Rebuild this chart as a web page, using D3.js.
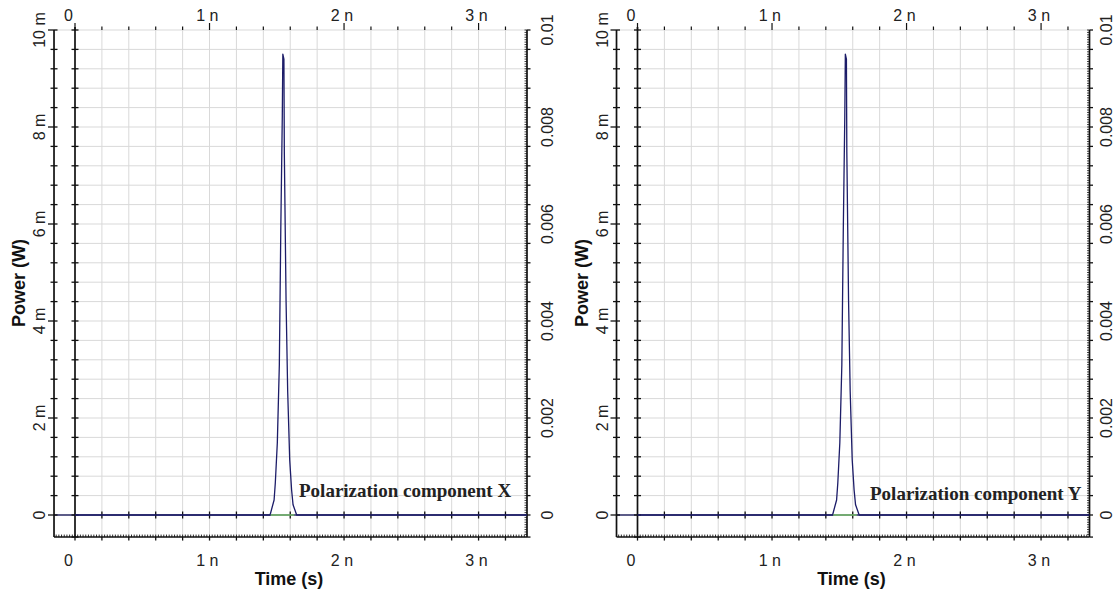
<!DOCTYPE html>
<html>
<head>
<meta charset="utf-8">
<script src="https://cdn.jsdelivr.net/npm/d3@7"></script>
<style>
  html, body { margin: 0; padding: 0; background: #fff; }
  svg { display: block; }
</style>
</head>
<body>
<svg id="chart" width="1115" height="592"></svg>
<script>
// Optical pulse, polarization X (time in ns, power in mW)
const pulseXTime  = [0, 1.450, 1.480, 1.489, 1.504, 1.519, 1.530, 1.541, 1.545, 1.553, 1.556, 1.569, 1.581, 1.596, 1.610, 1.621, 1.648, 3.36];
const pulseXPower = [0, 0, 0.31, 0.66, 1.49, 3.10, 5.93, 8.23, 9.50, 9.40, 7.49, 4.41, 2.55, 1.14, 0.52, 0.21, 0, 0];

// Optical pulse, polarization Y (time in ns, power in mW)
const pulseYTime  = [0, 1.450, 1.480, 1.489, 1.504, 1.519, 1.530, 1.541, 1.545, 1.553, 1.556, 1.569, 1.581, 1.596, 1.610, 1.621, 1.648, 3.36];
const pulseYPower = [0, 0, 0.31, 0.66, 1.49, 3.10, 5.93, 8.23, 9.50, 9.40, 7.49, 4.41, 2.55, 1.14, 0.52, 0.21, 0, 0];

// Weak companion trace under the pulse (time in ns, power in mW)
const companionTime  = [1.455, 1.630];
const companionPower = [0, 0];

// Axis ticks and labels
const timeTickValues   = [0, 1, 2, 3];
const timeTickLabels   = ["0", "1 n", "2 n", "3 n"];
const powerTickValues  = [0, 2, 4, 6, 8, 10];
const powerTickLabels  = ["0", "2 m", "4 m", "6 m", "8 m", "10 m"];
const wattTickValues   = [0, 0.002, 0.004, 0.006, 0.008, 0.01];
const wattTickLabels   = ["0", "0.002", "0.004", "0.006", "0.008", "0.01"];

const panels = [
  { dx: 0,     time: pulseXTime, power: pulseXPower, title: "Polarization component X", tx: 299, ty: 497, wattGap: 26 },
  { dx: 562.5, time: pulseYTime, power: pulseYPower, title: "Polarization component Y", tx: 870, ty: 500, wattGap: 22 }
];

const svg = d3.select("#chart");
const SANS = "'Liberation Sans', Arial, sans-serif";
const SERIF = "'Liberation Serif', 'Times New Roman', serif";
const GRID = "#d9d9d9";
const INK = "#111";

function drawPanel(p) {
  const g = svg.append("g");
  const x = d3.scaleLinear().domain([0, 3.36]).range([p.dx + 75, p.dx + 527]);
  const y = d3.scaleLinear().domain([0, 10]).range([515, 30]);
  const yW = d3.scaleLinear().domain([0, 0.01]).range([515, 30]);

  const xMin = -0.156, xMax = 3.36;
  const yMin = -0.455, yMax = 10;
  const outerX = x(xMin), rightX = x(xMax), bottomY = y(yMin), topY = y(yMax);

  // grid
  const vGrid = d3.range(0.2, 3.3, 0.2);
  g.selectAll(".vg").data(vGrid).join("line")
    .attr("x1", d => x(d)).attr("x2", d => x(d))
    .attr("y1", topY).attr("y2", bottomY)
    .attr("stroke", GRID).attr("stroke-width", 1);
  const hGrid = d3.range(0.4, 10.01, 0.4);
  g.selectAll(".hg").data(hGrid).join("line")
    .attr("x1", d => d > 9.99 ? outerX : x(0)).attr("x2", rightX)
    .attr("y1", d => y(d)).attr("y2", d => y(d))
    .attr("stroke", GRID).attr("stroke-width", 1);

  // zero line with crossing ticks
  g.append("line")
    .attr("x1", outerX).attr("x2", rightX).attr("y1", y(0)).attr("y2", y(0))
    .attr("stroke", "#262660").attr("stroke-width", 1.5);
  g.selectAll(".zt").data(d3.range(0.2, 3.3, 0.2)).join("line")
    .attr("x1", d => x(d)).attr("x2", d => x(d))
    .attr("y1", y(0) - 3.5).attr("y2", y(0) + 3.5)
    .attr("stroke", INK).attr("stroke-width", 1.3);

  // top ticks
  g.selectAll(".tt").data(d3.range(0, 3.3, 0.2)).join("line")
    .attr("x1", d => x(d)).attr("x2", d => x(d))
    .attr("y1", d => Math.abs(d - Math.round(d)) < 1e-6 ? topY - 7 : topY - 3.5)
    .attr("y2", topY)
    .attr("stroke", INK).attr("stroke-width", 1.2);

  // bottom axis: dense minor ticks upward, major ticks downward
  g.append("line")
    .attr("x1", outerX).attr("x2", rightX).attr("y1", bottomY).attr("y2", bottomY)
    .attr("stroke", INK).attr("stroke-width", 1.6);
  g.selectAll(".bm").data(d3.range(-0.14, 3.36, 0.02)).join("line")
    .attr("x1", d => x(d)).attr("x2", d => x(d))
    .attr("y1", bottomY - 2.5).attr("y2", bottomY)
    .attr("stroke", INK).attr("stroke-width", 0.9);
  g.selectAll(".bM").data(d3.range(0, 3.3, 0.2)).join("line")
    .attr("x1", d => x(d)).attr("x2", d => x(d))
    .attr("y1", bottomY).attr("y2", bottomY + 3.5)
    .attr("stroke", INK).attr("stroke-width", 1.3);

  // outer left axis
  g.append("line")
    .attr("x1", outerX).attr("x2", outerX).attr("y1", topY).attr("y2", bottomY)
    .attr("stroke", INK).attr("stroke-width", 1.7);
  g.selectAll(".ol").data(d3.range(0, 10.01, 0.4)).join("line")
    .attr("x1", d => Math.abs(d / 2 - Math.round(d / 2)) < 1e-6 ? outerX - 6 : outerX - 3.5)
    .attr("x2", outerX + 3.5)
    .attr("y1", d => y(d)).attr("y2", d => y(d))
    .attr("stroke", INK).attr("stroke-width", 1.3);

  // inner axis at t = 0
  g.append("line")
    .attr("x1", x(0)).attr("x2", x(0)).attr("y1", topY - 3).attr("y2", bottomY)
    .attr("stroke", INK).attr("stroke-width", 1.7);
  g.selectAll(".il").data(d3.range(0, 10.01, 0.4).concat([yMin])).join("line")
    .attr("x1", x(0) - 3.5).attr("x2", x(0) + 3.5)
    .attr("y1", d => y(d)).attr("y2", d => y(d))
    .attr("stroke", INK).attr("stroke-width", 1.3);

  // right axis in watts
  g.append("line")
    .attr("x1", rightX).attr("x2", rightX).attr("y1", topY).attr("y2", bottomY)
    .attr("stroke", INK).attr("stroke-width", 1.7);
  g.selectAll(".rm").data(d3.range(-0.0004, 0.01001, 0.00005)).join("line")
    .attr("x1", rightX - 2.5).attr("x2", rightX)
    .attr("y1", d => yW(d)).attr("y2", d => yW(d))
    .attr("stroke", INK).attr("stroke-width", 0.8);
  g.selectAll(".rM").data(d3.range(0, 0.01001, 0.0004).concat([yMin / 1000])).join("line")
    .attr("x1", rightX).attr("x2", rightX + 3.5)
    .attr("y1", d => yW(d)).attr("y2", d => yW(d))
    .attr("stroke", INK).attr("stroke-width", 1.3);

  // traces
  const pts = p.time.map((t, i) => [t, p.power[i]]);
  const line = d3.line().x(d => x(d[0])).y(d => y(d[1]));
  g.append("path").datum(pts)
    .attr("d", line)
    .attr("fill", "none").attr("stroke", "#1c1c68").attr("stroke-width", 1.3)
    .attr("stroke-linejoin", "round");
  const cpts = companionTime.map((t, i) => [t, companionPower[i]]);
  g.append("path").datum(cpts)
    .attr("d", line)
    .attr("fill", "none").attr("stroke", "#7cc46c").attr("stroke-width", 1.5);

  // time labels, bottom and top
  const timeFmt = d => timeTickLabels[timeTickValues.indexOf(d)];
  const xLabelAxis = (sel, yPos) => sel.selectAll(null).data(timeTickValues).join("text")
    .attr("x", d => x(d) + (d === 0 ? -2 : 9)).attr("y", yPos)
    .attr("text-anchor", "end")
    .attr("font-family", SANS).attr("font-size", 16).attr("fill", "#222")
    .text(timeFmt);
  xLabelAxis(g, 566);
  xLabelAxis(g, 20.5);

  // power labels on the outer axis (rotated)
  g.selectAll(".pl").data(powerTickValues).join("text")
    .attr("transform", d => `translate(${outerX - 9},${y(d)}) rotate(-90)`)
    .attr("text-anchor", "middle")
    .attr("font-family", SANS).attr("font-size", 16).attr("fill", "#222")
    .text((d, i) => powerTickLabels[i]);

  // watt labels on the right axis (rotated)
  g.selectAll(".wl").data(wattTickValues).join("text")
    .attr("transform", d => `translate(${rightX + p.wattGap},${yW(d)}) rotate(-90)`)
    .attr("text-anchor", "middle")
    .attr("font-family", SANS).attr("font-size", 16).attr("fill", "#222")
    .text((d, i) => wattTickLabels[i]);

  // axis titles
  g.append("text")
    .attr("transform", `translate(${p.dx + 25},283) rotate(-90)`)
    .attr("text-anchor", "middle")
    .attr("font-family", SANS).attr("font-size", 18).attr("font-weight", "bold").attr("fill", INK)
    .text("Power (W)");
  g.append("text")
    .attr("x", p.dx + 289).attr("y", 585)
    .attr("text-anchor", "middle")
    .attr("font-family", SANS).attr("font-size", 18).attr("font-weight", "bold").attr("fill", INK)
    .text("Time (s)");

  // trace caption
  g.append("text")
    .attr("x", p.tx).attr("y", p.ty)
    .attr("font-family", SERIF).attr("font-size", 19).attr("font-weight", "bold").attr("fill", "#222")
    .text(p.title);
}

panels.forEach(drawPanel);
</script>
</body>
</html>
